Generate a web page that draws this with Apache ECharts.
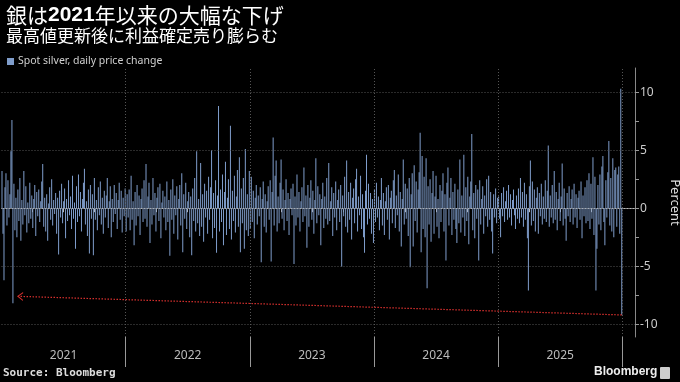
<!DOCTYPE html>
<html><head><meta charset="utf-8">
<script src="https://cdn.jsdelivr.net/npm/echarts@6/dist/echarts.min.js"></script>
<style>html,body{margin:0;padding:0;background:#000;}#c{width:680px;height:382px;}</style>
</head><body><div id="c"></div>
<script>
// Daily % change of spot silver (~2 trading days per value)
const years = [2021, 2022, 2023, 2024, 2025];
const chg2021 = [3.2,-2.2,-6.2,1.8,3.0,-1.5,2.4,-0.8,1.2,4.9,7.6,-8.2,2.1,-1.9,0.9,-2.5,1.6,-1.1,2.6,-2.8,
0.7,-1.4,3.2,-0.6,1.9,-2.1,0.5,-1.3,2.2,-0.9,1.1,-1.7,0.8,2.0,-2.4,1.4,-0.7,1.6,-1.2,0.6,
2.3,3.8,-1.6,0.9,-2.0,1.2,-2.8,0.4,1.8,-1.0,2.5,-1.5,0.7,-0.5,1.3,-2.2,0.9,-4.0,1.5,-0.8,
2.1,-1.3,0.6,1.7,-2.6,0.8,-1.1,2.4,-0.6,1.0,-1.8,2.8,-0.9,0.5,-3.5,1.9,-1.2,2.9,-0.7,1.4,
-2.0,0.8,2.2,3.4,-1.4,0.6,-2.4,1.6,-3.9,2.0,-0.9,1.2,-4.05,2.6,-1.0,0.7,-1.9,1.8,-0.6,2.3,
-1.4,0.9,-2.2,1.5,-0.8,1.1,2.6,-1.7,0.6,1.9,-2.5,0.8,-1.2,2.0,-0.5,1.3,-1.8,0.7,2.2,-1.0,
1.5,-2.1,0.9,-0.7,1.7];
const chg2022 = [-2.0,1.2,-0.8,1.6,-1.9,2.8,-1.0,0.6,-3.2,1.4,-1.5,2.0,-0.7,1.1,-2.3,0.8,1.7,-1.2,2.4,-0.9,
3.8,-1.6,1.0,2.2,-3.0,0.7,-1.4,2.6,-0.6,1.3,-2.0,0.9,1.8,-1.1,2.1,-2.6,0.5,1.5,-0.8,1.0,
-1.9,2.3,-1.2,0.7,-4.1,1.6,-1.0,2.5,-2.2,1.1,-0.6,1.9,-2.7,0.8,2.0,-1.5,3.0,-3.8,1.2,-0.9,
2.2,-1.8,0.6,1.4,-2.5,1.0,-4.05,1.7,-1.1,2.6,-2.0,4.9,-1.3,0.8,-2.4,3.9,-1.6,1.2,-2.9,2.1,
-0.8,1.5,-2.2,2.7,-1.0,1.8,5.0,-2.6,1.3,-1.7,2.4,-3.85,1.1,8.8,-2.0,1.6,-1.2,2.9,-3.2,1.4,
4.0,-2.3,0.9,2.5,-1.8,7.1,-2.7,1.5,-1.1,2.8,-2.1,1.0,3.3,-1.6,4.4,-3.8,1.7,-1.3,2.6,-3.5,
5.1,-1.9,1.2,-2.4,3.2];
const chg2023 = [-1.8,2.7,-1.2,1.5,-2.6,0.9,2.0,-1.4,1.1,-0.7,1.8,-4.65,0.8,2.3,-1.6,1.2,-2.1,0.6,1.9,-1.0,
2.4,-4.6,1.4,6.1,-1.5,2.8,4.1,-2.0,1.0,-1.3,2.2,4.2,-0.9,1.6,-1.9,0.7,2.5,-1.1,1.3,-2.3,
0.8,1.7,-0.6,2.1,-4.8,1.0,-1.5,2.9,-0.8,1.4,-2.0,0.6,1.8,-1.2,3.5,-0.7,1.1,-3.4,2.0,-1.6,
0.9,2.4,-1.0,1.5,-2.2,0.7,4.3,-1.3,1.9,-0.6,1.2,-3.2,0.8,2.2,-1.7,1.0,-0.9,2.6,-1.4,3.9,
-1.1,0.6,1.8,-2.4,1.3,-0.8,2.3,-1.9,0.7,1.6,-1.2,2.0,-5.05,1.1,-0.7,2.7,-1.6,4.1,-2.1,1.4,
-1.0,2.2,-2.7,0.9,1.7,-1.3,2.5,3.4,-2.0,1.0,-0.6,2.8,-1.8,1.2,-2.5,-3.85,1.5,4.6,-1.4,2.1,
-0.9,1.3,-2.2,0.8,-3.0];
const chg2024 = [1.6,-1.2,2.2,-0.8,1.0,-1.9,0.7,2.6,-1.5,1.3,-2.3,0.6,1.8,-1.0,2.0,-2.7,0.9,1.5,-1.3,2.4,
3.3,-1.7,1.1,-0.6,2.9,-2.0,1.4,-3.3,0.8,4.2,-1.4,2.1,-0.9,1.7,-2.4,2.6,-5.1,1.2,3.0,-3.3,
3.7,-1.1,2.3,-2.1,1.6,3.1,6.5,-3.8,4.5,-1.8,2.7,-2.5,4.3,-6.9,1.9,-1.4,2.5,-2.9,1.3,3.2,
-2.2,1.0,2.8,-1.6,0.8,-2.6,2.0,-1.2,1.5,3.0,-2.0,1.2,-4.5,2.2,3.5,-1.5,0.9,2.6,-2.3,1.4,
-1.0,2.1,-1.8,-3.0,1.6,-1.3,4.2,-2.1,1.1,-0.8,4.6,-2.4,1.8,-1.1,2.7,-3.1,1.0,2.3,6.4,-1.9,
1.3,-2.6,2.0,-0.9,1.6,-4.5,2.4,-1.4,0.8,1.9,-2.2,1.1,-0.7,2.5,-1.6,2.8,-1.0,1.4,-2.0,-3.9,
1.2,-0.8,1.7,-1.3,0.9];
const chg2025 = [1.0,-0.9,-2.5,1.3,-0.7,1.8,-1.2,0.6,1.5,-1.0,2.0,-0.8,1.2,-1.5,0.7,1.6,-0.6,-1.8,1.1,-0.9,
1.7,-1.3,2.6,-0.8,1.4,-1.6,2.2,-1.0,1.2,-2.6,-7.1,1.9,4.1,-1.5,2.3,-1.1,1.6,-2.0,0.9,1.8,
-2.2,1.3,-0.7,2.1,-1.4,1.0,-0.9,2.4,-1.2,1.5,5.4,-1.6,1.1,-0.8,2.0,-1.3,3.2,-1.0,1.4,-1.9,
0.8,2.2,-1.1,1.0,3.85,-1.5,1.7,-0.9,-2.8,1.3,-0.7,1.9,-1.2,0.8,1.6,-1.4,2.1,-0.8,1.2,-1.7,
0.9,1.5,-1.0,2.3,-2.6,1.1,-0.7,1.8,-1.3,2.4,-1.1,3.0,-1.8,2.1,-0.9,4.4,-2.3,2.7,-7.1,-3.5,
2.0,-1.4,2.9,-1.9,3.6,4.5,-1.2,-3.2,2.4,-0.8,3.1,5.8,-1.5,2.6,-2.0,4.3,-2.5,3.3,3.5,-1.6,
2.9,3.6,-2.2,10.3,-9.2];
const yearLabels = ['2021', '2022', '2023', '2024', '2025'];
const yLabelValues = [-10, -5, 0, 5, 10];
const yTickValues = [-10, -7.5, -5, -2.5, 0, 2.5, 5, 7.5, 10];
const arrowFrom = -9.2, arrowTo = -7.6;   // annotation: latest drop vs Feb-2021 drop

const yearArrays = [chg2021, chg2022, chg2023, chg2024, chg2025];
const barData = [];
years.forEach((y, k) => {
  const arr = yearArrays[k];
  arr.forEach((v, i) => barData.push([y + (i + 0.5) / arr.length, v]));
});
const xMin = 2021, xMax = 2026.1027;
const quarterTicks = [];
for (let y = 2021; y < 2026; y++) { quarterTicks.push(y + 0.25, y + 0.5, y + 0.75); }
const yearBounds = [2022, 2023, 2024, 2025, 2026];
const labelPos = years.map(y => y + 0.5);

const FONT = '"Noto Sans CJK JP","Noto Sans",sans-serif';
const chart = echarts.init(document.getElementById('c'), null, {renderer: 'canvas'});
const baseX = {type: 'value', min: xMin, max: xMax, gridIndex: 0, splitLine: {show: false}};
chart.setOption({
  backgroundColor: '#000',
  animation: false,
  title: [
    {text: '{a|銀は}{b|2021}{a|年以来の大幅な下げ}', left: 1, top: 0,
     textStyle: {rich: {
       a: {color: '#fff', fontSize: 21, fontFamily: FONT, fontWeight: 'normal'},
       b: {color: '#fff', fontSize: 21, fontFamily: '"Liberation Sans",Arial,sans-serif', fontWeight: 'bold'}}}},
    {text: '最高値更新後に利益確定売り膨らむ', left: 1, top: 22,
     textStyle: {color: '#fff', fontSize: 17, fontFamily: FONT, fontWeight: 'normal'}}
  ],
  legend: {left: 2, top: 51, icon: 'rect', itemWidth: 7, itemHeight: 7, itemGap: 4,
    textStyle: {color: '#d0d0d0', fontSize: 10.5, fontFamily: '"Noto Sans",sans-serif', padding: [0,0,0,-1]},
    data: ['Spot silver, daily price change']},
  grid: {left: 1.5, right: 45, top: 68, bottom: 45, containLabel: false, outerBoundsMode: 'none'},
  xAxis: [
    Object.assign({}, baseX, {position: 'bottom',
      axisLine: {show: true, lineStyle: {color: '#bbb', width: 1}},
      axisTick: {show: true, customValues: quarterTicks, length: 4, inside: false, lineStyle: {color: '#bbb'}},
      axisLabel: {show: false}}),
    Object.assign({}, baseX, {position: 'bottom',
      axisLine: {show: false},
      axisTick: {show: true, customValues: yearBounds, length: 30, lineStyle: {color: '#999'}},
      axisLabel: {show: true, customValues: labelPos, formatter: v => yearLabels[Math.floor(v) - 2021],
        color: '#bbb', fontSize: 12, margin: 13, fontFamily: '"Noto Sans",sans-serif'}})
  ],
  yAxis: {type: 'value', position: 'right', min: -11.1, max: 12.08,
    splitLine: {show: false},
    axisLine: {show: true, lineStyle: {color: '#888'}},
    axisTick: {show: true, customValues: yTickValues, length: 4, lineStyle: {color: '#999'}},
    axisLabel: {show: true, customValues: yLabelValues, color: '#ccc', fontSize: 12, margin: 5,
      fontFamily: '"Noto Sans",sans-serif'},
    name: 'Percent', nameLocation: 'middle', nameRotate: -90, nameGap: 18,
    nameTextStyle: {color: '#ddd', fontSize: 13, fontFamily: '"Noto Sans",sans-serif'}
  },
  series: [
    {name: 'Spot silver, daily price change', type: 'bar', xAxisIndex: 0, barWidth: 1,
     itemStyle: {color: '#7f9dcb', borderWidth: 0}, data: barData, z: 3,
     markLine: {silent: true, symbol: 'none', label: {show: false}, animation: false,
       lineStyle: {color: '#555', type: [1, 2], width: 1},
       data: yLabelValues.map(v => ({yAxis: v})).concat(yearBounds.map(v => ({xAxis: v})))}},
    {type: 'line', xAxisIndex: 0, data: [], z: 5,
     markLine: {silent: true, symbol: ['none', 'path://M0,10 L5,0 L10,10 L8.6,10 L5,2.8 L1.4,10 Z'],
       symbolSize: [9, 6], label: {show: false}, animation: false,
       lineStyle: {color: '#d8302e', type: [1.5, 1.5], width: 1.2},
       data: [[{coord: [barData[barData.length - 1][0], arrowFrom]}, {coord: [2021.149, arrowTo]}]]}}
  ],
  graphic: [
    {type: 'text', left: 3, top: 368, style: {text: 'Source: Bloomberg', fill: '#ddd',
      font: 'bold 11px "DejaVu Sans Mono","Liberation Mono",monospace'}},
    {type: 'text', left: 594, top: 366, style: {text: 'Bloomberg', fill: '#eee',
      font: 'bold 12px "Liberation Sans",Arial,sans-serif'}},
    {type: 'rect', left: 660, top: 367, shape: {width: 10, height: 12, r: 1}, style: {fill: '#ccc'}}
  ]
});
</script></body></html>
